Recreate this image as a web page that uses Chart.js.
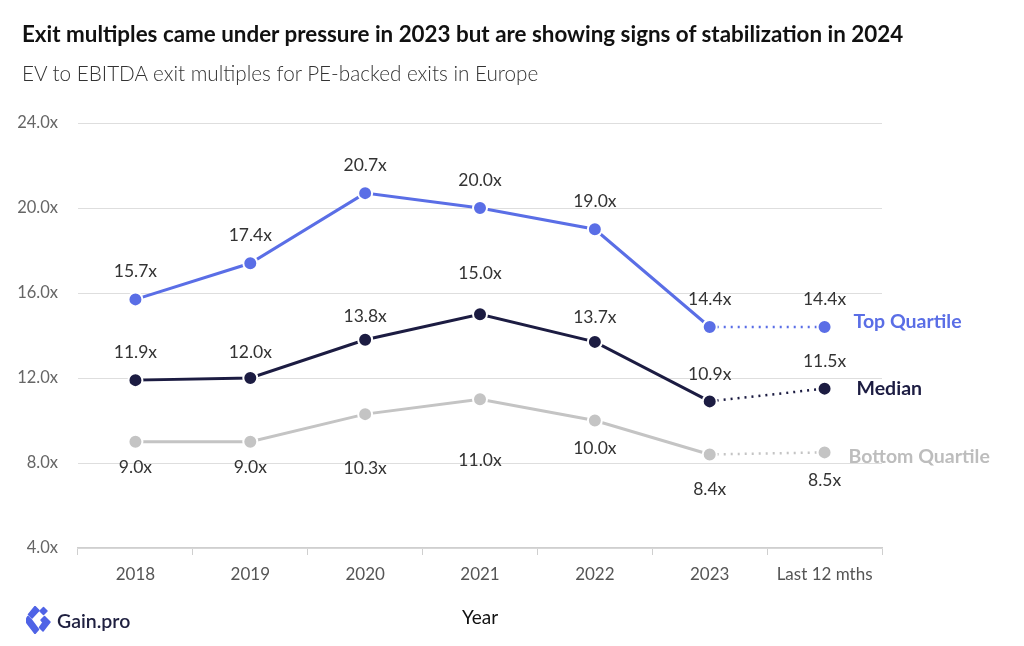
<!DOCTYPE html>
<html>
<head>
<meta charset="utf-8">
<script src="https://cdn.jsdelivr.net/npm/chart.js@4/dist/chart.umd.min.js"></script>
<style>
  html, body { margin: 0; padding: 0; background: #fff; }
  #wrap { position: relative; width: 1024px; height: 646px; overflow: hidden; font-family: Lato, 'Open Sans', sans-serif; }
  #title { position: absolute; left: 22px; top: 20px; font-size: 22.4px; font-weight: 700; color: #111; white-space: nowrap; }
  #subtitle { position: absolute; left: 22px; top: 61px; font-size: 20.7px; font-weight: 300; color: #333; white-space: nowrap; }
  #logo { position: absolute; left: 26px; top: 606px; display: flex; align-items: center; }
  #logo span { font-size: 19.5px; font-weight: 600; color: #1f2040; margin-left: 6px; }
  canvas { position: absolute; left: 0; top: 0; }
</style>
</head>
<body>
<div id="wrap">
  <canvas id="chart" width="1024" height="646"></canvas>
  <div id="title">Exit multiples came under pressure in 2023 but are showing signs of stabilization in 2024</div>
  <div id="subtitle">EV to EBITDA exit multiples for PE-backed exits in Europe</div>
  <div id="logo">
    <svg width="25" height="28" viewBox="0 0 25 28">
      <path d="M9 0.5 L13 4.5 L6 12 L2.5 8.5 Z" fill="#4f63e6" stroke="#4f63e6" stroke-width="1.5" stroke-linejoin="round"/>
      <path d="M2 10.5 L5.5 14 L12.5 23.5 L9 27.5 L1 17 Q0 15 1 12 Z" fill="#4f63e6" stroke="#4f63e6" stroke-width="1.5" stroke-linejoin="round"/>
      <path d="M17.5 1.5 L21 5 L17.5 8.5 L14 5 Z" fill="#4f63e6" stroke="#4f63e6" stroke-width="1.5" stroke-linejoin="round"/>
      <path d="M18.5 10.5 L24 16 L17 25 L13.5 21.5 L17 16.5 L15 14 Z" fill="#4f63e6" stroke="#4f63e6" stroke-width="1.5" stroke-linejoin="round"/>
    </svg>
    <span>Gain.pro</span>
  </div>
</div>
<script>
const categories = ['2018', '2019', '2020', '2021', '2022', '2023', 'Last 12 mths'];
const topQuartile = [15.7, 17.4, 20.7, 20.0, 19.0, 14.4, 14.4];
const median = [11.9, 12.0, 13.8, 15.0, 13.7, 10.9, 11.5];
const bottomQuartile = [9.0, 9.0, 10.3, 11.0, 10.0, 8.4, 8.5];
const seriesNames = ['Top Quartile', 'Median', 'Bottom Quartile'];
const yTicks = [4, 8, 12, 16, 20, 24];

const FONT = 'Lato, "Open Sans", sans-serif';
const colors = ['#5a6ee6', '#1c1c42', '#c4c4c4'];
const endColors = ['#5a6ee6', '#1c1c42', '#bdbdbd'];
// label offsets (px from the point), only styling
const labelOffsets = [
  [-28, -28, -28, -28, -28, -28, -28],
  [-28, -26, -23, -41, -25, -27, -27],
  [26, 26, 54, 61, 28, 35, 28]
];
const endOffsets = [-5, 0, 4];
const endGaps = [29, 32, 24];

const lastIdx = categories.length - 1;

function makeSet(name, data, i) {
  return {
    label: name,
    data,
    borderColor: colors[i],
    backgroundColor: colors[i],
    pointBackgroundColor: colors[i],
    pointBorderColor: '#fff',
    pointBorderWidth: 2,
    pointRadius: 7,
    pointHoverRadius: 7,
    borderWidth: 3,
    tension: 0,
    segment: {
      borderDash: ctx => ctx.p1DataIndex === lastIdx ? [2, 5] : undefined,
      borderWidth: ctx => ctx.p1DataIndex === lastIdx ? 2.5 : 3
    }
  };
}

const labelPlugin = {
  id: 'labels',
  afterDatasetsDraw(chart) {
    const ctx = chart.ctx;
    ctx.save();
    chart.data.datasets.forEach((ds, i) => {
      const meta = chart.getDatasetMeta(i);
      ctx.font = '17.5px ' + FONT;
      ctx.fillStyle = '#333';
      ctx.textAlign = 'center';
      ctx.textBaseline = 'middle';
      meta.data.forEach((pt, j) => {
        ctx.fillText(ds.data[j].toFixed(1) + 'x', pt.x, pt.y + labelOffsets[i][j]);
      });
      const last = meta.data[lastIdx];
      ctx.font = 'bold 19.5px ' + FONT;
      ctx.fillStyle = endColors[i];
      ctx.textAlign = 'left';
      ctx.fillText(ds.label, last.x + endGaps[i], last.y + endOffsets[i]);
    });
    ctx.restore();
  }
};

new Chart(document.getElementById('chart'), {
  type: 'line',
  data: {
    labels: categories,
    datasets: [
      makeSet(seriesNames[0], topQuartile, 0),
      makeSet(seriesNames[1], median, 1),
      makeSet(seriesNames[2], bottomQuartile, 2)
    ]
  },
  options: {
    responsive: false,
    animation: false,
    layout: { padding: { left: 0, right: 142, top: 123, bottom: 0 } },
    plugins: { legend: { display: false }, tooltip: { enabled: false } },
    scales: {
      x: {
        offset: true,
        grid: { offset: true, drawOnChartArea: false, color: '#cfcfcf', tickLength: 7 },
        border: { color: '#cfcfcf', width: 1.5 },
        ticks: { color: '#555', font: { size: 17, family: FONT }, padding: 9 },
        title: { display: true, text: 'Year', color: '#111', font: { size: 19, family: FONT }, padding: { top: 0, bottom: 17 } },
        afterFit: s => { s.height = 98; }
      },
      y: {
        min: yTicks[0],
        max: yTicks[yTicks.length - 1],
        afterBuildTicks: s => { s.ticks = yTicks.map(v => ({ value: v })); },
        grid: { color: '#dedede', drawTicks: false, lineWidth: 1 },
        border: { display: false },
        ticks: { color: '#666', font: { size: 16.5, family: FONT }, padding: 20, callback: v => Number(v).toFixed(1) + 'x' },
        afterFit: s => { s.width = 78; }
      }
    }
  },
  plugins: [labelPlugin]
});
</script>
</body>
</html>
